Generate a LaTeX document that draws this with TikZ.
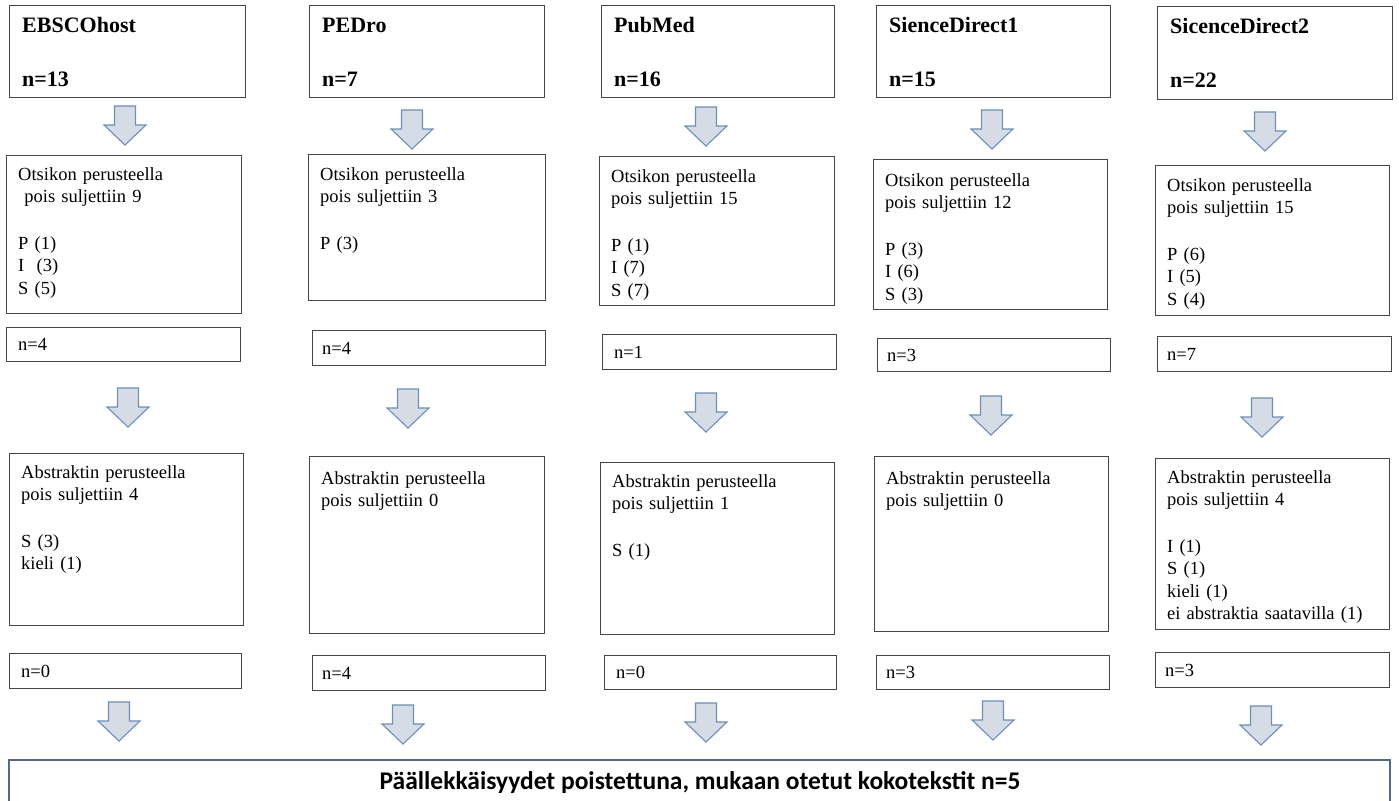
\documentclass[tikz,border=0pt]{standalone}
\usepackage{fontspec}
\setmainfont{Liberation Serif}
\newfontfamily\bottomfont{Carlito}
\definecolor{boxline}{RGB}{70,70,70}
\definecolor{arrowfill}{RGB}{214,220,230}
\definecolor{arrowline}{RGB}{110,142,182}
\definecolor{bigline}{RGB}{85,105,135}
\tikzset{
  box/.style={draw=boxline, line width=1.1pt, inner sep=0pt, anchor=north west},
  title/.style={anchor=base west, inner sep=0pt, font=\fontsize{22}{26}\selectfont\bfseries},
  body/.style={anchor=base west, inner sep=0pt, align=left, text width=220pt, font=\fontsize{18.5}{22.5}\selectfont},
  ntext/.style={anchor=west, inner sep=0pt, font=\fontsize{18.5}{22.5}\selectfont},
  downarrow/.pic={
    \draw[draw=arrowline, fill=arrowfill, line width=1.1pt, line join=miter]
      (-10.5,0) -- (10.5,0) -- (10.5,19) -- (21,19) -- (0,39) -- (-21,19) -- (-10.5,19) -- cycle;
  }
}
\begin{document}
\begin{tikzpicture}[x=1pt, y=-1pt]
\useasboundingbox (0,0) rectangle (1399,800);
% ---------- column 1 ----------
\node[box, minimum width=236pt, minimum height=92pt] (t1) at (9,5) {};
\node[title] (t1a) at ([shift={(13,28)}]t1.north west) {EBSCOhost};
\node[title] (t1b) at ([shift={(13,81)}]t1.north west) {n=13};
\node[box, minimum width=235pt, minimum height=158pt] (o1) at (6,155) {};
\node[body] (o1t) at ([shift={(12,25)}]o1.north west) {Otsikon perusteella\\\ pois suljettiin 9\\[24pt]P (1)\\I\ \ (3)\\S (5)};
\node[box, minimum width=234pt, minimum height=34pt] (m1) at (6,327) {};
\node[ntext] (m1t) at ([shift={(12,0)}]m1.west) {n=4};
\node[box, minimum width=234pt, minimum height=172pt] (a1) at (9,453) {};
\node[body] (a1t) at ([shift={(12,25)}]a1.north west) {Abstraktin perusteella\\pois suljettiin 4\\[24pt]S (3)\\kieli (1)};
\node[box, minimum width=232pt, minimum height=35pt] (e1) at (9,653) {};
\node[ntext] (e1t) at ([shift={(12,0)}]e1.west) {n=0};
\pic (p1a) at (125,106) {downarrow};
\pic (p1b) at (128,388) {downarrow};
\pic (p1c) at (119,702) {downarrow};
% ---------- column 2 ----------
\node[box, minimum width=235pt, minimum height=92pt] (t2) at (309,5) {};
\node[title] (t2a) at ([shift={(13,28)}]t2.north west) {PEDro};
\node[title] (t2b) at ([shift={(13,81)}]t2.north west) {n=7};
\node[box, minimum width=237pt, minimum height=146pt] (o2) at (308,154) {};
\node[body] (o2t) at ([shift={(12,26)}]o2.north west) {Otsikon perusteella\\pois suljettiin 3\\[24pt]P (3)};
\node[box, minimum width=233pt, minimum height=35pt] (m2) at (312,330) {};
\node[ntext] (m2t) at ([shift={(10,0)}]m2.west) {n=4};
\node[box, minimum width=235pt, minimum height=177pt] (a2) at (309,456) {};
\node[body] (a2t) at ([shift={(12,28)}]a2.north west) {Abstraktin perusteella\\pois suljettiin 0};
\node[box, minimum width=233pt, minimum height=35pt] (e2) at (312,655) {};
\node[ntext] (e2t) at ([shift={(10,0)}]e2.west) {n=4};
\pic (p2a) at (412,110) {downarrow};
\pic (p2b) at (408,389) {downarrow};
\pic (p2c) at (403,705) {downarrow};
% ---------- column 3 ----------
\node[box, minimum width=233pt, minimum height=92pt] (t3) at (601,5) {};
\node[title] (t3a) at ([shift={(13,28)}]t3.north west) {PubMed};
\node[title] (t3b) at ([shift={(13,81)}]t3.north west) {n=16};
\node[box, minimum width=235pt, minimum height=149pt] (o3) at (599,156) {};
\node[body] (o3t) at ([shift={(12,26)}]o3.north west) {Otsikon perusteella\\pois suljettiin 15\\[24pt]P (1)\\I (7)\\S (7)};
\node[box, minimum width=234pt, minimum height=35pt] (m3) at (602,334) {};
\node[ntext] (m3t) at ([shift={(12,0)}]m3.west) {n=1};
\node[box, minimum width=234pt, minimum height=172pt] (a3) at (600,462) {};
\node[body] (a3t) at ([shift={(12,25)}]a3.north west) {Abstraktin perusteella\\pois suljettiin 1\\[24pt]S (1)};
\node[box, minimum width=232pt, minimum height=34pt] (e3) at (604,655) {};
\node[ntext] (e3t) at ([shift={(12,0)}]e3.west) {n=0};
\pic (p3a) at (706,107) {downarrow};
\pic (p3b) at (706,393) {downarrow};
\pic (p3c) at (706,703) {downarrow};
% ---------- column 4 ----------
\node[box, minimum width=234pt, minimum height=92pt] (t4) at (876,5) {};
\node[title] (t4a) at ([shift={(13,28)}]t4.north west) {SienceDirect1};
\node[title] (t4b) at ([shift={(13,81)}]t4.north west) {n=15};
\node[box, minimum width=234pt, minimum height=150pt] (o4) at (873,159) {};
\node[body] (o4t) at ([shift={(12,27)}]o4.north west) {Otsikon perusteella\\pois suljettiin 12\\[24pt]P (3)\\I (6)\\S (3)};
\node[box, minimum width=233pt, minimum height=33pt] (m4) at (877,338) {};
\node[ntext] (m4t) at ([shift={(10,0)}]m4.west) {n=3};
\node[box, minimum width=234pt, minimum height=175pt] (a4) at (874,456) {};
\node[body] (a4t) at ([shift={(12,28)}]a4.north west) {Abstraktin perusteella\\pois suljettiin 0};
\node[box, minimum width=233pt, minimum height=34pt] (e4) at (876,655) {};
\node[ntext] (e4t) at ([shift={(10,0)}]e4.west) {n=3};
\pic (p4a) at (992,110) {downarrow};
\pic (p4b) at (991,396) {downarrow};
\pic (p4c) at (993,701) {downarrow};
% ---------- column 5 ----------
\node[box, minimum width=235pt, minimum height=93pt] (t5) at (1157,6) {};
\node[title] (t5a) at ([shift={(13,28)}]t5.north west) {SicenceDirect2};
\node[title] (t5b) at ([shift={(13,81)}]t5.north west) {n=22};
\node[box, minimum width=234pt, minimum height=150pt] (o5) at (1155,165) {};
\node[body] (o5t) at ([shift={(12,26)}]o5.north west) {Otsikon perusteella\\pois suljettiin 15\\[24pt]P (6)\\I (5)\\S (4)};
\node[box, minimum width=234pt, minimum height=35pt] (m5) at (1157,336) {};
\node[ntext] (m5t) at ([shift={(10,0)}]m5.west) {n=7};
\node[box, minimum width=234pt, minimum height=171pt] (a5) at (1155,458) {};
\node[body] (a5t) at ([shift={(12,25)}]a5.north west) {Abstraktin perusteella\\pois suljettiin 4\\[24pt]I (1)\\S (1)\\kieli (1)\\ei abstraktia saatavilla (1)};
\node[box, minimum width=234pt, minimum height=35pt] (e5) at (1155,652) {};
\node[ntext] (e5t) at ([shift={(10,0)}]e5.west) {n=3};
\pic (p5a) at (1265,112) {downarrow};
\pic (p5b) at (1262,398) {downarrow};
\pic (p5c) at (1261,706) {downarrow};
% ---------- bottom ----------
\node[draw=bigline, line width=1.5pt, inner sep=0pt, anchor=north west, minimum width=1381pt, minimum height=45pt] (fin) at (8,759) {};
\node[anchor=base, inner sep=0pt, font=\bottomfont\fontsize{25.5}{30}\selectfont\bfseries] (fint) at (700,789) {Päällekkäisyydet poistettuna, mukaan otetut kokotekstit n=5};
\end{tikzpicture}
\end{document}
